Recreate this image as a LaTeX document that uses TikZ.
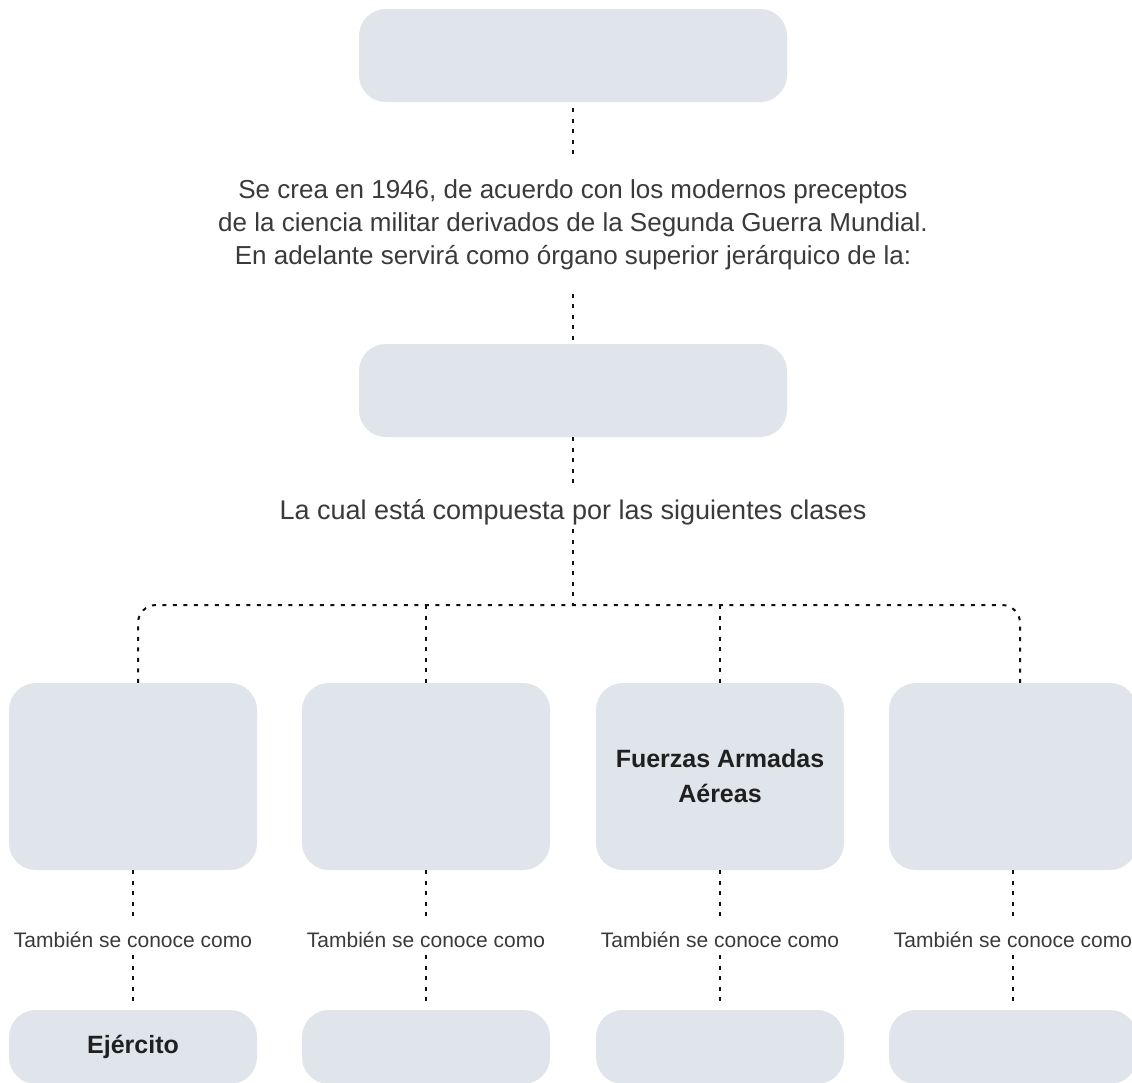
\documentclass[tikz,border=0pt]{standalone}
\usepackage{fontspec}
\setmainfont{Liberation Sans}
\definecolor{boxfill}{HTML}{E0E4EB}
\definecolor{txt}{HTML}{3A3A3A}
\definecolor{btxt}{HTML}{202020}
\definecolor{dotc}{HTML}{111111}
\begin{document}
\begin{tikzpicture}[x=1pt,y=-1pt,
  box/.style={fill=boxfill, rounded corners=27pt, inner sep=0pt, minimum width=248pt,
    text=btxt, font=\fontsize{25}{35}\selectfont\bfseries, align=center},
  wide/.style={box, minimum width=428pt, minimum height=93pt},
  tall/.style={box, minimum height=187pt},
  low/.style={box, minimum height=74pt},
  conn/.style={draw=dotc, line width=2pt, dash pattern=on 4pt off 6.5pt},
  para/.style={text=txt, font=\fontsize{26}{33}\selectfont, align=center, inner sep=0pt, minimum height=138pt},
  mid/.style={text=txt, font=\fontsize{27}{33}\selectfont, inner sep=0pt, text height=34pt, text depth=10pt, anchor=base},
  lbl/.style={text=txt, font=\fontsize{21}{25}\selectfont, inner sep=0pt, text height=30pt, text depth=8pt, anchor=base},
]
\useasboundingbox (0,0) rectangle (1132,1082);
\fill[white] (0,0) rectangle (1132,1082);
\clip (0,0) rectangle (1132,1082);

\node[wide] (top) at (573,55.5) {};
\node[para] (p) at (573,224.5) {Se crea en 1946, de acuerdo con los modernos preceptos\\de la ciencia militar derivados de la Segunda Guerra Mundial.\\En adelante servirá como órgano superior jerárquico de la:};
\node[wide] (midbox) at (573,390.5) {};
\node[mid] (lc) at (573,519) {La cual está compuesta por las siguientes clases};
\coordinate (j) at (573,605);

\node[tall] (b1) at (133,776.5) {};
\node[tall] (b2) at (426,776.5) {};
\node[tall] (b3) at (720,776.5) {Fuerzas Armadas\\Aéreas};
\node[tall] (b4) at (1013,776.5) {};

\node[lbl] (l1) at (133,947) {También se conoce como};
\node[lbl] (l2) at (426,947) {También se conoce como};
\node[lbl] (l3) at (720,947) {También se conoce como};
\node[lbl] (l4) at (1013,947) {También se conoce como};

\node[low] (e1) at (133,1047) {Ejército};
\node[low] (e2) at (426,1047) {};
\node[low] (e3) at (720,1047) {};
\node[low] (e4) at (1013,1047) {};

\draw[conn, shorten <=6pt] (top) -- (p);
\draw[conn] (p) -- (midbox);
\draw[conn] (midbox) -- (lc);
\draw[conn] (lc) -- (j);
\draw[conn, rounded corners=18pt] ([xshift=5pt]b1.north) |- (j) -| ([xshift=7pt]b4.north);
\draw[conn] (b2.north |- j) -- (b2.north);
\draw[conn] (b3.north |- j) -- (b3.north);

\foreach \i in {1,2,3,4}{
  \draw[conn] (b\i) -- (l\i);
  \draw[conn, shorten >=9pt] (l\i) -- (e\i);
}
\end{tikzpicture}
\end{document}
